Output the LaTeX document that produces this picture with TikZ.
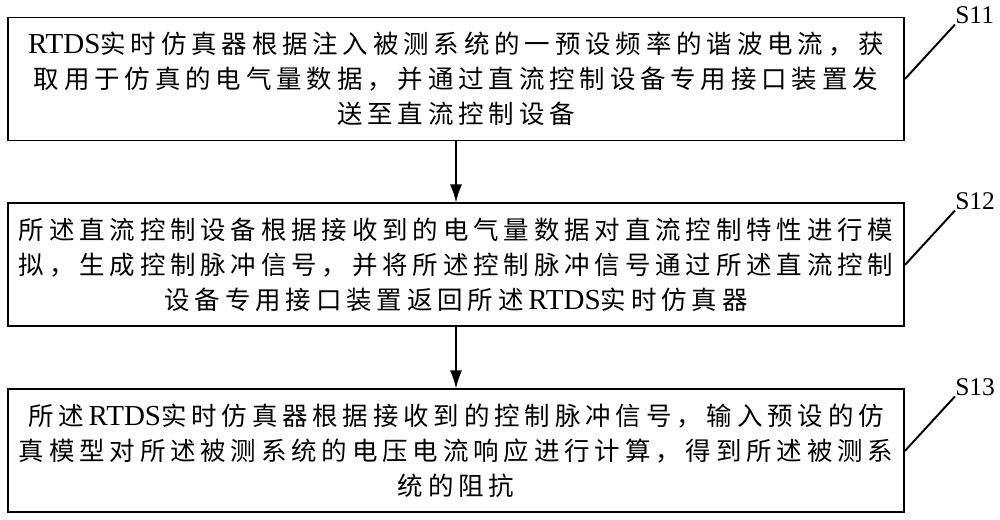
\documentclass[tikz,border=0pt]{standalone}
\usepackage{fontspec}
\setmainfont{Liberation Serif}
\newfontfamily\cjk[LetterSpace=19]{Noto Sans CJK SC}
\usetikzlibrary{positioning, arrows.meta}
\tikzstyle{process} = [rectangle,
minimum width=17.92cm,
minimum height=2.46cm,
text centered,
align=center,
inner sep=0pt,
draw=black,line width=1.1pt,
font=\cjk\fontsize{14.5}{19.8}\selectfont]
\tikzstyle{steplabel} = [anchor=south west, inner sep=0pt, font=\fontsize{14.5}{16}\selectfont]
\tikzstyle{arrow} = [line width=0.8pt,-{Latex[length=3.6mm,width=2.4mm]}]
\tikzstyle{leader} = [line width=1.1pt]
\newcommand{\rtds}{{\fontsize{16.5}{19.8}\selectfont\textrm{RTDS}}}

\begin{document}
\begin{tikzpicture}
\useasboundingbox (0,0) rectangle (20,10.38);

\node (s11) [process] at (9.12,8.80) {\rtds 实时仿真器根据注入被测系统的一预设频率的谐波电流，获\\取用于仿真的电气量数据，并通过直流控制设备专用接口装置发\\送至直流控制设备};
\node (s12) [process, below=1.22cm of s11] {所述直流控制设备根据接收到的电气量数据对直流控制特性进行模\\拟，生成控制脉冲信号，并将所述控制脉冲信号通过所述直流控制\\设备专用接口装置返回所述\rtds 实时仿真器};
\node (s13) [process, below=1.22cm of s12] {所述\rtds 实时仿真器根据接收到的控制脉冲信号，输入预设的仿\\真模型对所述被测系统的电压电流响应进行计算，得到所述被测系\\统的阻抗};

\node (l11) [steplabel] at ([shift={(1.0cm,-0.16cm)}]s11.north east) {S11};
\node (l12) [steplabel] at ([shift={(1.0cm,-0.16cm)}]s12.north east) {S12};
\node (l13) [steplabel] at ([shift={(1.0cm,-0.16cm)}]s13.north east) {S13};

\draw [arrow] (s11) -- (s12);
\draw [arrow] (s12) -- (s13);
\draw [leader] (s11.east) -- (l11.south west);
\draw [leader] (s12.east) -- (l12.south west);
\draw [leader] (s13.east) -- (l13.south west);

\end{tikzpicture}
\end{document}
